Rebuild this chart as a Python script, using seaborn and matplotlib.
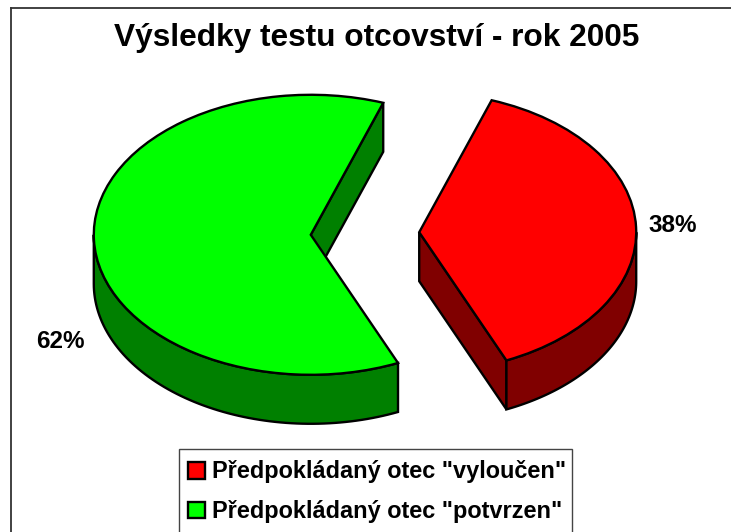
import matplotlib
matplotlib.use('Agg')
import matplotlib.pyplot as plt
import numpy as np
import seaborn as sns
from matplotlib.patches import Rectangle

title = 'Výsledky testu otcovství - rok 2005'
categories = ['Předpokládaný otec "potvrzen"', 'Předpokládaný otec "vyloučen"']
shares = [62, 38]
top_colors = ['#00ff00', '#ff0000']
side_colors = ['#008000', '#800000']

W, H = 731, 532
sx, sy = 217.0, 140.0   # px per unit, squashed pie
cx, cy = 365.0, 233.5
depth = 49 / sy

sns.set_theme(style='white')
plt.rcParams['font.family'] = ['Liberation Sans', 'DejaVu Sans']
plt.rcParams['font.weight'] = 'bold'

fig = plt.figure(figsize=(W / 100, H / 100), dpi=100, facecolor='white')
ax = fig.add_axes([11 / W, 0, (W - 11) / W, (H - 8) / H])

wedges, _ = ax.pie(shares, colors=sns.color_palette(top_colors), startangle=70.5,
                   explode=[0.25, 0.25], radius=1,
                   wedgeprops=dict(edgecolor='black', linewidth=1.7, zorder=3))

# fake 3d: side walls pushed down under the top faces
for w, col in zip(wedges, side_colors):
    x0, y0 = w.center
    t1, t2 = w.theta1, w.theta2
    # cut wall at the first angle
    ex = x0 + np.cos(np.radians(t1))
    ey = y0 + np.sin(np.radians(t1))
    ax.fill([x0, ex, ex, x0], [y0, ey, ey - depth, y0 - depth], facecolor=col,
            edgecolor='black', linewidth=1.7, zorder=1)
    # outer wall on the lower half
    th = np.radians(np.linspace(max(t1, 180), min(t2, 360), 80))
    xs = x0 + np.cos(th)
    ys = y0 + np.sin(th)
    ax.fill(np.r_[xs, xs[::-1]], np.r_[ys, ys[::-1] - depth], facecolor=col,
            edgecolor='black', linewidth=1.7, zorder=2)

ax.set_aspect('auto')
ax.set_xlim((11 - cx) / sx, (W - cx) / sx)
ax.set_ylim((cy - H) / sy, (cy - 8) / sy)
ax.set_frame_on(True)
for name, spine in ax.spines.items():
    spine.set_visible(name in ('left', 'top'))
    spine.set_color('#333333')
    spine.set_linewidth(1.3)

ax.set_title(title, x=(376.5 - 11) / (W - 11), y=1 - (38 - 8) / (H - 8), va='center', pad=0,
             fontsize=22.8, fontweight='bold', color='black')

fig.text(60.5 / W, 1 - 342 / H, f'{shares[0]}%', ha='center', va='center', fontsize=17.5, color='black')
fig.text(673 / W, 1 - 226 / H, f'{shares[1]}%', ha='center', va='center', fontsize=17.5, color='black')

# legend box runs off the bottom of the picture
ax.add_patch(Rectangle((179 / W, 1 - 545 / H), 393 / W, 96 / H, transform=fig.transFigure,
                       facecolor='white', edgecolor='#444444', linewidth=1.0,
                       clip_on=False, zorder=4))
leg = ax.legend(wedges[::-1], categories[::-1], loc='upper left',
                bbox_to_anchor=(179 / W, 1 - 451 / H), bbox_transform=fig.transFigure,
                borderaxespad=0, frameon=False,
                fontsize=16.9, labelcolor='black', handlelength=0.72, handleheight=0.72,
                handletextpad=0.3, labelspacing=0.72, borderpad=0.4)

fig.savefig('out.png', dpi=100, facecolor='white')
